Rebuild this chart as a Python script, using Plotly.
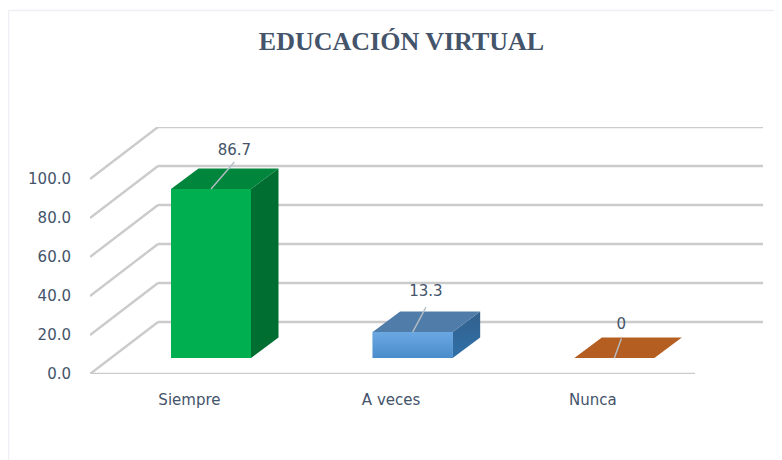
import plotly.graph_objects as go

TITLE = "EDUCACIÓN VIRTUAL"
categories = ["Siempre", "A veces", "Nunca"]
values = [86.7, 13.3, 0]
value_labels = ["86.7", "13.3", "0"]
y_ticks = [0, 20, 40, 60, 80, 100]
y_tick_labels = ["0.0", "20.0", "40.0", "60.0", "80.0", "100.0"]

# Pseudo-3D projection, in axis units
WALL_DX, WALL_DY = 68 / 201.67, 52 / 1.95
BAR_W, BAR_SHIFT = 80 / 201.67, 0.1
BAR_DX, BAR_DY = 27.5 / 201.67, 20.5 / 1.95
FLOOR = 16 / 1.95
leader_tip_x = [0.116, 0.066, 0.035]
leader_tip_y = [13.8, 12.8, 10]
label_rise = [19.4, 20.4, 16.8]

TEXT = "#44546A"
GRID = "#CBCBCB"
FONT = "DejaVu Sans"
front = ["#00B050", "#5B9BD5", "#B55E22"]
top = ["#00853C", "#4F7CA8", "#B55E22"]
side = ["#006E30", "#376592", "#B55E22"]

fig = go.Figure()

# Walls and floor grid, below all traces
shapes = []
line = dict(color=GRID, width=2.4)
xl, xr = -0.5, 2.5
for t in y_ticks:
    shapes.append(dict(type="line", xref="x", yref="y", layer="below", x0=xl, y0=t,
                       x1=xl + WALL_DX, y1=t + WALL_DY, line=line))
    shapes.append(dict(type="line", xref="x", yref="y", layer="below", x0=xl + WALL_DX, y0=t + WALL_DY,
                       x1=xr + WALL_DX, y1=t + WALL_DY, line=line))
shapes.append(dict(type="line", xref="x", yref="y", layer="below", x0=xl, y0=0, x1=xr, y1=0, line=line))
# Faint page frame
frame = dict(color="#EDEFF5", width=1.5)
shapes.append(dict(type="line", xref="paper", yref="paper", layer="below",
                   x0=(8.5 - 90) / 673, x1=(8.5 - 90) / 673, y0=-86 / 247, y1=(374 - 10.5) / 247, line=frame))
shapes.append(dict(type="line", xref="paper", yref="paper", layer="below",
                   x0=(8.5 - 90) / 673, x1=(782 - 90) / 673, y0=(374 - 10.5) / 247, y1=(374 - 10.5) / 247, line=frame))

# Bar fronts
fig.add_trace(go.Bar(x=[i + BAR_SHIFT for i in range(len(values))], y=values, base=FLOOR, width=BAR_W,
                     marker=dict(color=front, line=dict(width=0)), hoverinfo="skip"))


def poly(xs, ys, color, gradient=None):
    kw = dict(fillgradient=gradient) if gradient else dict(fillcolor=color)
    fig.add_trace(go.Scatter(x=xs + xs[:1], y=ys + ys[:1], mode="lines", fill="toself",
                             line=dict(width=0, color=color), hoverinfo="skip", **kw))


for i, v in enumerate(values):
    x0 = i + BAR_SHIFT - BAR_W / 2
    x1 = i + BAR_SHIFT + BAR_W / 2
    yb, yt = FLOOR, FLOOR + v
    if v > 0:
        grad = None
        if i == 1:
            grad = dict(type="vertical", colorscale=[[0, "#2F6FA8"], [1, "#33618C"]])
        poly([x1, x1 + BAR_DX, x1 + BAR_DX, x1], [yb, yb + BAR_DY, yt + BAR_DY, yt], side[i], grad)
    if i == 1:
        poly([x0, x1, x1, x0], [yb, yb, yt, yt], front[i],
             dict(type="vertical", colorscale=[[0, "#4A8CCB"], [1, "#6AA8E2"]]))
    poly([x0, x1, x1 + BAR_DX, x0 + BAR_DX], [yt, yt, yt + BAR_DY, yt + BAR_DY], top[i])

    # Leader line and data label
    xa = i + BAR_SHIFT
    fig.add_trace(go.Scatter(x=[xa, xa + leader_tip_x[i]], y=[yt, yt + leader_tip_y[i]], mode="lines",
                             line=dict(color="#B4BEC4", width=1.4), hoverinfo="skip"))

fig.add_trace(go.Scatter(
    x=[i + BAR_SHIFT + leader_tip_x[i] for i in range(len(values))],
    y=[FLOOR + v + label_rise[i] for i, v in enumerate(values)],
    mode="text", text=value_labels, textposition="middle center",
    textfont=dict(family=FONT, size=15, color=TEXT), hoverinfo="skip"))

# The page body adds an 8 px margin, so the figure is 8 px smaller and its margins shift
fig.update_layout(
    width=774, height=452, autosize=False,
    margin=dict(l=82, r=19, t=119, b=86, autoexpand=False),
    paper_bgcolor="white", plot_bgcolor="rgba(0,0,0,0)",
    showlegend=False, shapes=shapes,
    title=dict(text=TITLE, x=393.5 / 774, y=1 - 33 / 452, xanchor="center", yanchor="middle",
               font=dict(family="Liberation Serif", size=26, color=TEXT, weight="bold")),
    xaxis=dict(range=[xl, xr + WALL_DX], tickmode="array",
               tickvals=[i - 0.007 for i in range(len(categories))],
               ticktext=categories, showgrid=False, zeroline=False, showline=False,
               ticks="outside", ticklen=12, tickcolor="rgba(0,0,0,0)",
               tickfont=dict(family=FONT, size=15, color=TEXT), fixedrange=True),
    yaxis=dict(range=[0, 247 / 1.95], tickmode="array", tickvals=y_ticks, ticktext=y_tick_labels,
               showgrid=False, zeroline=False, showline=False,
               ticks="outside", ticklen=15, tickcolor="rgba(0,0,0,0)",
               tickfont=dict(family=FONT, size=15, color=TEXT), fixedrange=True),
)
fig.write_html("out.html", config=dict(displayModeBar=False))
